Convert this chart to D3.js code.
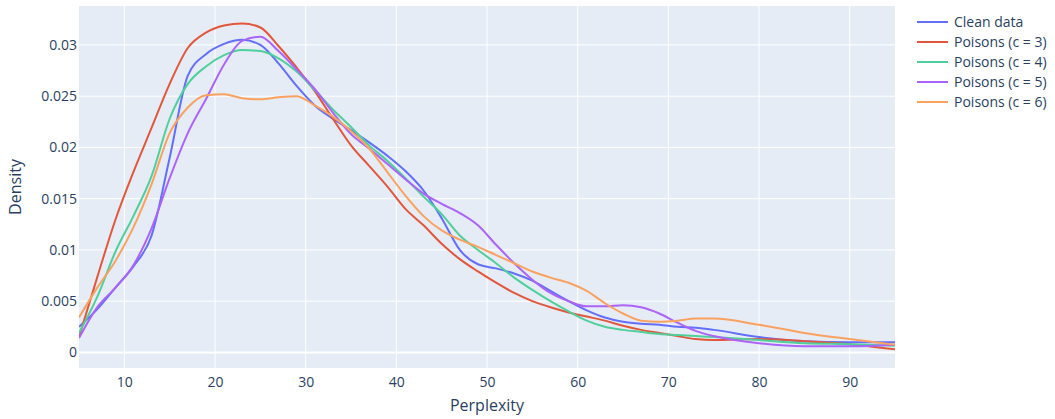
<!DOCTYPE html>
<html>
<head>
<meta charset="utf-8">
<script src="https://cdn.jsdelivr.net/npm/d3@7"></script>
<style>
  body { margin: 0; background: #fff; }
  svg { font-family: "Open Sans", verdana, arial, sans-serif; }
</style>
</head>
<body>
<div id="container"></div>
<script>
// perplexity grid shared by all series
const perplexity = [5, 7, 9, 11, 13, 15, 17, 19, 21, 23, 25, 27, 29, 31, 33, 35, 37, 39, 41, 43,
    45, 47, 49, 51, 53, 55, 57, 59, 61, 63, 65, 67, 69, 71, 73, 75, 80, 85, 90, 95];

const cleanData = [0.0025, 0.0042, 0.0063, 0.0084, 0.0114, 0.0190, 0.0270, 0.0291, 0.0301, 0.0305,
    0.0300, 0.0282, 0.0260, 0.0241, 0.0228, 0.0217, 0.0205, 0.0192, 0.0177, 0.0158,
    0.0131, 0.0100, 0.0086, 0.0082, 0.0077, 0.0070, 0.0060, 0.0050, 0.0041, 0.0034,
    0.0030, 0.0028, 0.0027, 0.0025, 0.0024, 0.0022, 0.0015, 0.0011, 0.0010, 0.0010];

const poisons3 = [0.0015, 0.0073, 0.0129, 0.0176, 0.0219, 0.0262, 0.0297, 0.0312, 0.0319, 0.0321,
    0.0317, 0.0299, 0.0278, 0.0255, 0.0228, 0.0202, 0.0182, 0.0162, 0.0140, 0.0124,
    0.0106, 0.0091, 0.0079, 0.0068, 0.0058, 0.0050, 0.0044, 0.0039, 0.0035, 0.0031,
    0.0026, 0.0022, 0.0019, 0.0016, 0.0013, 0.0012, 0.0013, 0.0011, 0.0008, 0.0003];

const poisons4 = [0.0019, 0.0054, 0.0098, 0.0133, 0.0172, 0.0228, 0.0262, 0.0279, 0.0290, 0.0295,
    0.0294, 0.0287, 0.0274, 0.0256, 0.0237, 0.0220, 0.0202, 0.0187, 0.0170, 0.0152,
    0.0135, 0.0114, 0.0100, 0.0087, 0.0073, 0.0061, 0.0050, 0.0040, 0.0031, 0.0025,
    0.0022, 0.0020, 0.0018, 0.0017, 0.0016, 0.0015, 0.0012, 0.0009, 0.0008, 0.00065];

const poisons5 = [0.0014, 0.0044, 0.0063, 0.0085, 0.0121, 0.0170, 0.0214, 0.0247, 0.0281, 0.0304,
    0.0308, 0.0294, 0.0276, 0.0257, 0.0234, 0.0213, 0.0199, 0.0184, 0.0169, 0.0155,
    0.0145, 0.0136, 0.0124, 0.0105, 0.0087, 0.0071, 0.0058, 0.0050, 0.0045, 0.0045,
    0.0046, 0.0044, 0.0038, 0.0029, 0.0021, 0.0016, 0.0009, 0.0006, 0.0006, 0.00075];

const poisons6 = [0.0034, 0.0063, 0.0089, 0.0122, 0.0164, 0.0214, 0.0239, 0.0251, 0.0252, 0.0248,
    0.0247, 0.0249, 0.0250, 0.0241, 0.0230, 0.0216, 0.0199, 0.0176, 0.0153, 0.0133,
    0.0119, 0.0110, 0.0103, 0.0095, 0.0087, 0.0079, 0.0073, 0.0068, 0.0060, 0.0048,
    0.0038, 0.0031, 0.0030, 0.0031, 0.0033, 0.0033, 0.0027, 0.0019, 0.0013, 0.00075];

const seriesNames = ["Clean data", "Poisons (c = 3)", "Poisons (c = 4)", "Poisons (c = 5)", "Poisons (c = 6)"];
const seriesValues = [cleanData, poisons3, poisons4, poisons5, poisons6];
const colors = ["#636efa", "#e2573c", "#4fcf9b", "#ab63fa", "#fba15f"];

const xTicks = [10, 20, 30, 40, 50, 60, 70, 80, 90];
const yTicks = [0, 0.005, 0.01, 0.015, 0.02, 0.025, 0.03];

const width = 1055;
const height = 419;
const margin = { top: 6, right: 160, bottom: 51, left: 79 };

const svg = d3.select('#container')
    .append('svg')
    .attr('width', width)
    .attr('height', height);

const x = d3.scaleLinear()
    .domain([5, 95])
    .range([margin.left, width - margin.right]);

const y = d3.scaleLinear()
    .domain([-0.00152, 0.0338])
    .range([height - margin.bottom, margin.top]);

const textColor = "#2a3f5f";

// plot background
svg.append("rect")
    .attr("x", margin.left)
    .attr("y", margin.top)
    .attr("width", width - margin.left - margin.right)
    .attr("height", height - margin.top - margin.bottom)
    .attr("fill", "#E5ECF6");

// grid lines
svg.append("g")
    .selectAll("line")
    .data(xTicks)
    .join("line")
    .attr("x1", d => x(d)).attr("x2", d => x(d))
    .attr("y1", margin.top).attr("y2", height - margin.bottom)
    .attr("stroke", "#fff")
    .attr("stroke-width", 1);

svg.append("g")
    .selectAll("line")
    .data(yTicks)
    .join("line")
    .attr("x1", margin.left).attr("x2", width - margin.right)
    .attr("y1", d => y(d)).attr("y2", d => y(d))
    .attr("stroke", "#fff")
    .attr("stroke-width", d => d === 0 ? 2 : 1);

// axes (labels only, plotly style)
const xAxis = svg.append("g")
    .attr("transform", `translate(0,${height - margin.bottom})`)
    .call(d3.axisBottom(x).tickValues(xTicks).tickSize(0).tickPadding(9).tickFormat(d3.format("d")));
xAxis.select(".domain").remove();
xAxis.selectAll("text").attr("fill", textColor).attr("font-size", "14px")
    .attr("font-family", '"Open Sans", verdana, arial, sans-serif');

const yAxis = svg.append("g")
    .attr("transform", `translate(${margin.left},0)`)
    .call(d3.axisLeft(y).tickValues(yTicks).tickSize(0).tickPadding(2).tickFormat(d => d === 0 ? "0" : String(+d.toFixed(3))));
yAxis.select(".domain").remove();
yAxis.selectAll("text").attr("fill", textColor).attr("font-size", "14px")
    .attr("font-family", '"Open Sans", verdana, arial, sans-serif');

// lines
const line = d3.line()
    .x(d => x(d[0]))
    .y(d => y(d[1]))
    .curve(d3.curveMonotoneX);

svg.append("defs").append("clipPath").attr("id", "plot-clip")
    .append("rect")
    .attr("x", margin.left).attr("y", margin.top)
    .attr("width", width - margin.left - margin.right)
    .attr("height", height - margin.top - margin.bottom);

svg.append("g")
    .attr("clip-path", "url(#plot-clip)")
    .selectAll("path")
    .data(seriesValues)
    .join("path")
    .attr("d", vals => line(vals.map((v, i) => [perplexity[i], v])))
    .attr("fill", "none")
    .attr("stroke", (d, i) => colors[i])
    .attr("stroke-width", 2)
    .attr("stroke-linejoin", "round");

// axis titles
svg.append("text")
    .attr("x", (margin.left + width - margin.right) / 2)
    .attr("y", 411)
    .attr("text-anchor", "middle")
    .attr("font-size", "16px")
    .attr("fill", textColor)
    .text("Perplexity");

svg.append("text")
    .attr("transform", `translate(21,${(margin.top + height - margin.bottom) / 2}) rotate(-90)`)
    .attr("text-anchor", "middle")
    .attr("font-size", "16px")
    .attr("fill", textColor)
    .text("Density");

// legend
const legend = svg.append("g")
    .selectAll("g")
    .data(seriesNames)
    .join("g")
    .attr("transform", (d, i) => `translate(917,${22 + i * 20})`);

legend.append("line")
    .attr("x1", 0).attr("x2", 31)
    .attr("stroke", (d, i) => colors[i])
    .attr("stroke-width", 2);

legend.append("text")
    .attr("x", 37)
    .attr("dy", "0.35em")
    .attr("font-size", "14px")
    .attr("fill", textColor)
    .text(d => d);
</script>
</body>
</html>
